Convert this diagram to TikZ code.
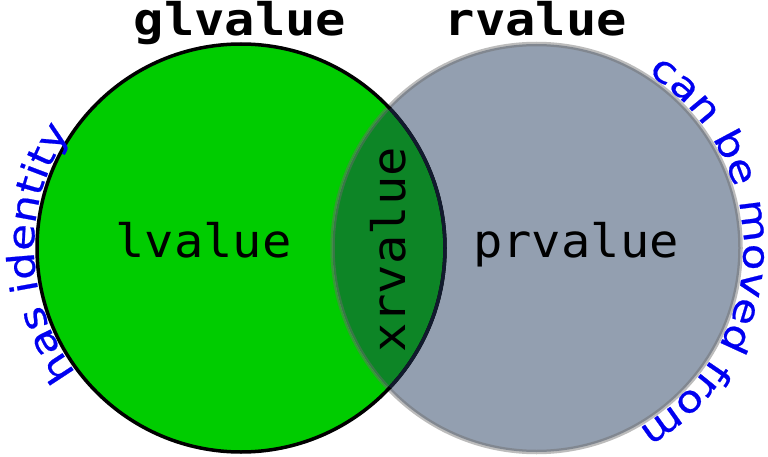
\documentclass[tikz,border=0pt]{standalone}
\usepackage{fontspec}
\usetikzlibrary{decorations.text,calc}
\newfontfamily\monofont[FakeStretch=1.06]{DejaVu Sans Mono}
\newfontfamily\monobold[FakeStretch=1.12]{DejaVu Sans Mono Bold}
\newfontfamily\arcfont[FakeStretch=1.18,FakeBold=0.6]{DejaVu Sans}
\definecolor{lgreen}{RGB}{0,204,0}
\definecolor{rgray}{RGB}{147,159,176}
\definecolor{lensgreen}{RGB}{13,133,38}
\definecolor{edgegray}{RGB}{108,108,108}
\definecolor{navyedge}{RGB}{18,26,46}
\definecolor{arcblue}{RGB}{0,0,240}
\tikzset{
  setlabel/.style={font=\monobold\fontsize{45}{45}\selectfont, anchor=base, inner sep=0pt},
  regionlabel/.style={font=\monofont\fontsize{46}{46}\selectfont, anchor=base, inner sep=0pt},
}
\begin{document}
\begin{tikzpicture}[x=1pt,y=1pt]
\useasboundingbox (0,0) rectangle (768,456);
\coordinate (L) at (241,208);
\coordinate (R) at (536.5,208);
% fills
\fill[lgreen] (L) circle (204);
\fill[rgray] (R) circle (204);
\begin{scope}
  \clip (L) circle (204);
  \fill[lensgreen] (R) circle (204);
\end{scope}
% outlines
\draw[edgegray, draw opacity=0.46, line width=4.5pt] (R) circle (204);
\draw[black, line width=3.5pt] (L) circle (204);
\begin{scope}
  \clip (R) circle (202);
  \draw[navyedge, line width=3.5pt] (L) circle (204);
\end{scope}
% labels
\node[setlabel] (gl) at (240,420) {glvalue};
\node[setlabel] (rv) at (536,420) {rvalue};
\node[regionlabel] (lv) at (203.5,199) {lvalue};
\node[regionlabel] (pr) at (576,199) {prvalue};
\node[regionlabel, rotate=90] (xr) at (405,206) {xrvalue};
% curved texts
\path[decorate, decoration={text along path, text align=center,
  text={|\arcfont\fontsize{37}{37}\selectfont\color{arcblue}|has identity}}]
  ($(L)+(241.5:207)$) arc[start angle=241.5, end angle=121.5, radius=207];
\path[decorate, decoration={text along path, text align=center,
  text={|\arcfont\fontsize{37}{37}\selectfont\color{arcblue}|can be moved from}}]
  ($(R)+(58.5:207)$) arc[start angle=58.5, end angle=-61.5, radius=207];
\end{tikzpicture}
\end{document}
